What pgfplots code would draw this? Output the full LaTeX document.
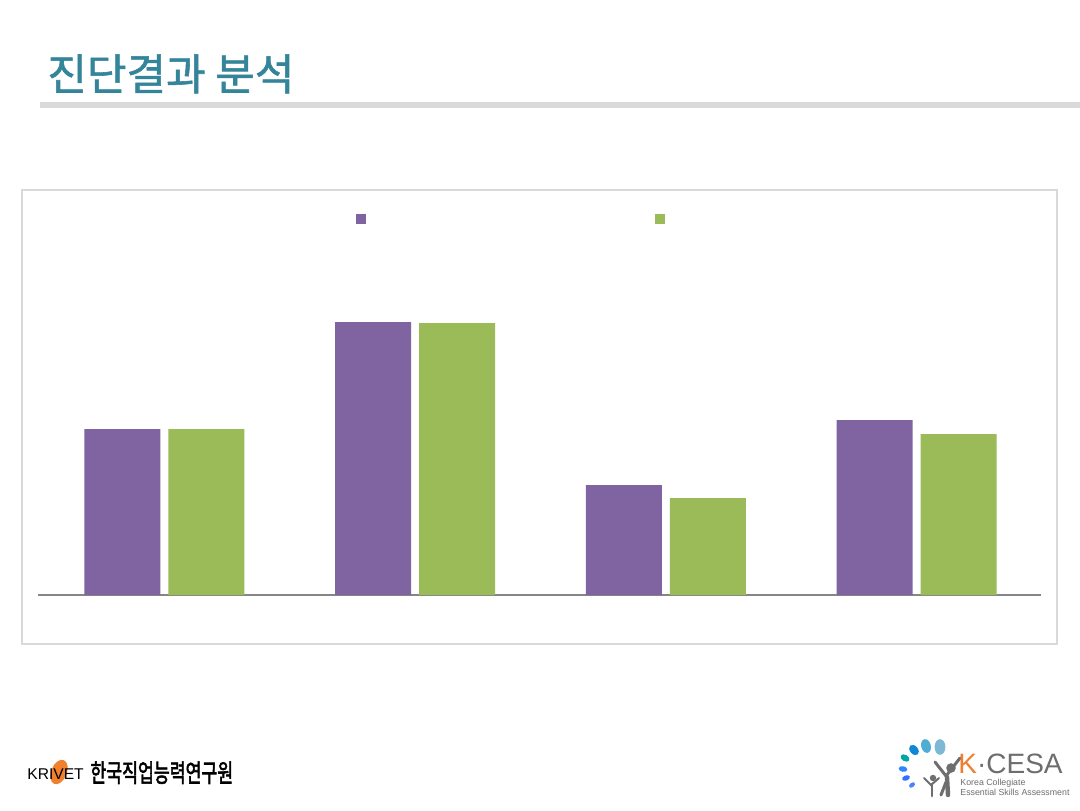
\documentclass[border=0pt]{standalone}
\usepackage{pgfplots}
\pgfplotsset{compat=1.18}
\usepackage{fontspec}
\setmainfont{Liberation Sans}
\newfontfamily\kr{Noto Sans CJK KR}[FakeBold=1.3]
\newfontfamily\krb{Noto Sans CJK KR}[FakeBold=2.5]
\definecolor{cpurple}{HTML}{8064A2}
\definecolor{cgreen}{HTML}{9BBB59}
\definecolor{ctitle}{HTML}{34849A}
\definecolor{cline}{HTML}{D9D9D9}
\definecolor{caxis}{HTML}{868686}
\definecolor{corange}{HTML}{F07F2E}
\definecolor{clogo}{HTML}{6E6E6E}
\pgfplotstableread{
x purple green
0 166 166
1 273 272
2 110 97
3 175 161
}\datatable
\begin{document}
\begin{tikzpicture}
\fill[white] (0,0) rectangle (540pt,405pt);
\useasboundingbox (0,0) rectangle (540pt,405pt);
\begin{scope}[x=0.5pt,y=-0.5pt,yshift=405pt]
% title
\node[anchor=base west,inner sep=0pt,text=ctitle,font=\kr\fontsize{21.5pt}{21.5pt}\selectfont] at (47,90) {진단결과 분석};
\fill[cline] (40,102) rectangle (1080,108);
% chart frame
\draw[cline,line width=0.6pt] (22,190) rectangle (1057,644);
% footer left
\fill[corange,rotate around={-22:(59,772)}] (59,772) ellipse (3.9pt and 6.4pt);
\node[anchor=base west,inner sep=0pt,font=\fontsize{7.8pt}{8pt}\selectfont] at (27,779) {KRIVET};
\node[anchor=base west,inner sep=0pt,font=\krb\fontsize{12.5pt}{12.5pt}\selectfont] at (90,782) {\scalebox{0.69}[1]{한국직업능력연구원}};
% footer right: logo
\fill[teal!70!cyan,rotate around={-30:(905,758)}] (905,758) ellipse (2.4pt and 1.6pt);
\fill[cyan!70!blue,rotate around={-50:(914,750)}] (914,750) ellipse (2.9pt and 2pt);
\fill[cyan!60!teal!80,rotate around={-75:(926,746)}] (926,746) ellipse (3.5pt and 2.4pt);
\fill[cyan!40!teal!60,rotate around={-90:(940,747)}] (940,747) ellipse (3.9pt and 2.7pt);
\fill[blue!60!cyan!80,rotate around={-10:(903,769)}] (903,769) ellipse (2.2pt and 1.4pt);
\fill[blue!70!cyan!80,rotate around={20:(906,778)}] (906,778) ellipse (2pt and 1.3pt);
\fill[blue!70!cyan!70,rotate around={40:(912,785)}] (912,785) ellipse (1.7pt and 1.1pt);
\draw[clogo,line width=2.2pt,line cap=round] (947,777) -- (948,795);
\draw[clogo,line width=1.5pt,line cap=round] (935,762) -- (946,776) -- (960,758);
\draw[clogo,line width=1.5pt,line cap=round] (941,795) -- (946,782);
\fill[clogo] (951,768) circle (2.4pt);
\draw[clogo,line width=1.4pt,line cap=round] (932,784) -- (932,796);
\draw[clogo,line width=1pt,line cap=round] (924,778) -- (931,785) -- (939,778);
\fill[clogo] (933,778) circle (1.6pt);
\node[anchor=base west,inner sep=0pt,font=\fontsize{14pt}{14pt}\selectfont,text=clogo] at (958,773) {\textcolor{corange}{K}·CESA};
\node[anchor=base west,inner sep=0pt,font=\fontsize{4.4pt}{5pt}\selectfont,text=clogo] at (960,785) {Korea Collegiate};
\node[anchor=base west,inner sep=0pt,font=\fontsize{4.4pt}{5pt}\selectfont,text=clogo] at (960,795) {Essential Skills Assessment};
\end{scope}
\begin{axis}[
  at={(19pt,107.5pt)}, anchor=south west,
  scale only axis, width=501.5pt, height=197.5pt,
  ybar=4pt, bar width=38pt,
  xmin=-0.5, xmax=3.5, ymin=0, ymax=395,
  axis x line*=bottom, axis y line=none,
  x axis line style={caxis,line width=0.8pt},
  xtick=\empty, ytick=\empty,
  legend columns=2,
  legend style={draw=none,fill=none,at={(0.311,0.952)},anchor=west,
    nodes={inner sep=0pt},column sep=71.75pt},
  legend image code/.code={\fill[#1,draw=none] (0pt,-2.5pt) rectangle (5pt,2.5pt);},
]
\addplot[fill=cpurple,draw=none,bar shift=-20.5pt] table[x=x,y=purple]{\datatable};
\addlegendentry{\mbox{}}
\addplot[fill=cgreen,draw=none,bar shift=21.5pt] table[x=x,y=green]{\datatable};
\addlegendentry{\mbox{}}
\end{axis}
\end{tikzpicture}
\end{document}
